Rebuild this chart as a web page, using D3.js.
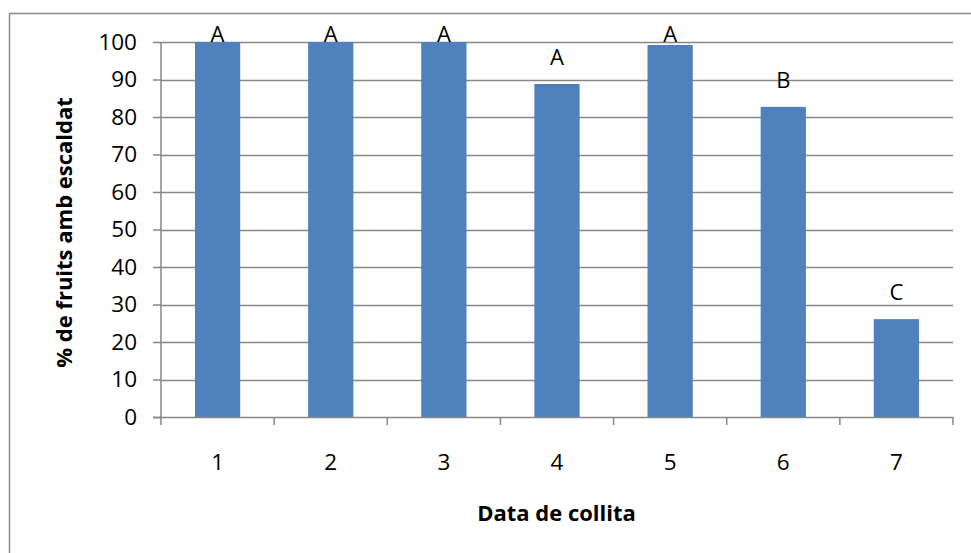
<!DOCTYPE html>
<html>
<head>
<meta charset="utf-8">
<script src="https://cdn.jsdelivr.net/npm/d3@7"></script>
<style>
  html, body { margin: 0; padding: 0; background: #fff; }
  svg { display: block; }
  text { font-family: "Open Sans", sans-serif; fill: #000; }
</style>
</head>
<body>
<svg id="chart" width="971" height="553"></svg>
<script>
const categories = ["1", "2", "3", "4", "5", "6", "7"];
const values = [100, 100, 100, 88.8, 99.2, 82.7, 26.1];
const letters = ["A", "A", "A", "A", "A", "B", "C"];
const yTicks = [0, 10, 20, 30, 40, 50, 60, 70, 80, 90, 100];
const xTitle = "Data de collita";
const yTitle = "% de fruits amb escaldat";

const svg = d3.select("#chart");
const W = 971, H = 553;
const plot = { left: 161, right: 953, top: 42, bottom: 417 };
const gridColor = "#878787";

// outer chart border (extends beyond right/bottom edge)
svg.append("rect")
  .attr("x", 9.5).attr("y", 13.5)
  .attr("width", W + 20).attr("height", H + 20)
  .attr("fill", "none").attr("stroke", "#8a8a8a").attr("stroke-width", 1.5);

const x = d3.scaleBand().domain(categories).range([plot.left, plot.right])
  .paddingInner(0.6).paddingOuter(0.3);
const xEdges = d3.scaleLinear().domain([0, categories.length]).range([plot.left, plot.right]);
const y = d3.scaleLinear().domain([0, 100]).range([plot.bottom, plot.top]);

// gridlines
svg.append("g").selectAll("line").data(yTicks.filter(d => d > 0)).join("line")
  .attr("x1", plot.left).attr("x2", plot.right)
  .attr("y1", d => Math.round(y(d)) + 0.5).attr("y2", d => Math.round(y(d)) + 0.5)
  .attr("stroke", gridColor).attr("stroke-width", 1.5);

// bars
svg.append("g").selectAll("rect").data(values).join("rect")
  .attr("x", (d, i) => x(categories[i]))
  .attr("width", x.bandwidth())
  .attr("y", d => y(d))
  .attr("height", d => y(0) - y(d))
  .attr("fill", "#4F81BD");

// y axis
const yAxis = d3.axisLeft(y).tickValues(yTicks).tickSize(8).tickPadding(16);
const gy = svg.append("g").attr("transform", `translate(${plot.left},0)`).call(yAxis);
gy.select(".domain").attr("stroke", gridColor).attr("stroke-width", 1.5).attr("d", `M-0,${plot.top}V${plot.bottom}`);
gy.selectAll(".tick line").attr("stroke", gridColor).attr("stroke-width", 1.5);
gy.selectAll(".tick text").attr("font-size", 22.5).attr("font-family", "Open Sans, sans-serif").attr("fill", "#000");

// x axis (boundary ticks)
const gx = svg.append("g");
gx.append("line").attr("x1", plot.left - 8).attr("x2", plot.right)
  .attr("y1", plot.bottom + 0.5).attr("y2", plot.bottom + 0.5)
  .attr("stroke", gridColor).attr("stroke-width", 1.5);
gx.selectAll("line.t").data(d3.range(categories.length + 1)).join("line").attr("class", "t")
  .attr("x1", d => xEdges(d)).attr("x2", d => xEdges(d))
  .attr("y1", plot.bottom).attr("y2", plot.bottom + 8)
  .attr("stroke", gridColor).attr("stroke-width", 1.5);
gx.selectAll("text").data(categories).join("text")
  .attr("x", d => x(d) + x.bandwidth() / 2)
  .attr("y", 470)
  .attr("text-anchor", "middle")
  .attr("font-size", 22.5)
  .text(d => d);

// letter labels
svg.append("g").selectAll("text").data(values).join("text")
  .attr("x", (d, i) => x(categories[i]) + x.bandwidth() / 2)
  .attr("y", d => Math.max(y(d) - 19, plot.top))
  .attr("text-anchor", "middle")
  .attr("font-size", 22)
  .text((d, i) => letters[i]);

// axis titles
svg.append("text")
  .attr("x", (plot.left + plot.right) / 2 - 0.5).attr("y", 521)
  .attr("text-anchor", "middle").attr("font-weight", "bold").attr("font-size", 22)
  .text(xTitle);
svg.append("text")
  .attr("transform", `translate(72,${(plot.top + plot.bottom) / 2 + 3}) rotate(-90)`)
  .attr("text-anchor", "middle").attr("font-weight", "bold").attr("font-size", 22)
  .text(yTitle);
</script>
</body>
</html>
